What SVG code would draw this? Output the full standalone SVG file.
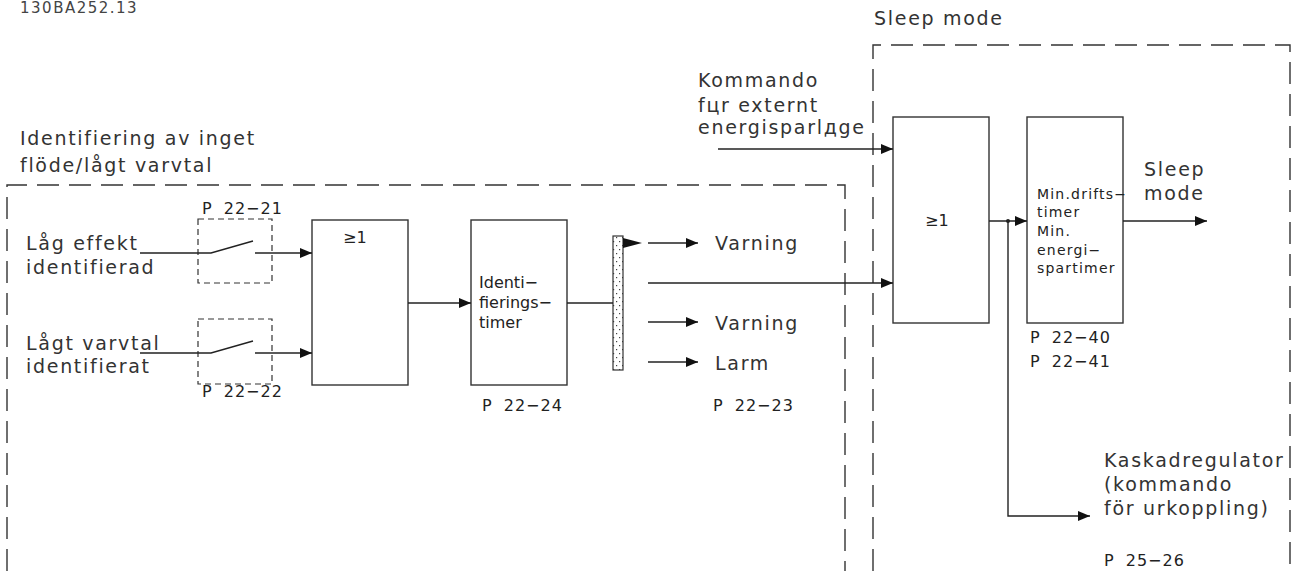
<svg xmlns="http://www.w3.org/2000/svg" width="1292" height="571" viewBox="0 0 1292 571">
<style>
.lbl{font-family:"DejaVu Sans",Verdana,sans-serif;font-size:19px;letter-spacing:1.7px;fill:#333}
.cad{font-family:"DejaVu Sans",sans-serif;font-size:16px;letter-spacing:1px;word-spacing:5px;fill:#222}
.tm{font-family:"DejaVu Sans",sans-serif;font-size:16px;fill:#222}
.sm{font-family:"DejaVu Sans",sans-serif;font-size:14px;letter-spacing:1.2px;fill:#222}
.ge{font-family:"DejaVu Sans",sans-serif;font-size:16px;fill:#222}
.box{fill:#fff;stroke:#333;stroke-width:1.4}
.dash{fill:none;stroke:#333;stroke-width:1.4;stroke-dasharray:22 10}
.sdash{fill:none;stroke:#333;stroke-width:1.2;stroke-dasharray:6 4}
.ln{fill:none;stroke:#222;stroke-width:1.4}
</style>
<defs>
<marker id="ah" markerWidth="12" markerHeight="10" refX="12" refY="5" orient="auto" markerUnits="userSpaceOnUse">
<path d="M0,0 L12,5 L0,10 Z" fill="#111"/>
</marker>
<pattern id="dots" width="6" height="8" patternUnits="userSpaceOnUse">
<rect width="6" height="8" fill="#fff"/>
<rect x="1" y="1" width="1.2" height="1.2" fill="#444"/>
<rect x="4" y="5" width="1.2" height="1.2" fill="#444"/>
</pattern>
</defs>
<rect width="1292" height="571" fill="#fff"/>

<text x="20" y="13" style="font-family:'DejaVu Sans',sans-serif;font-size:15px;letter-spacing:1.5px;fill:#444">130BA252.13</text>

<g id="noflow-frame">
<path class="dash" d="M7,571 V185 H845 V571"/>
<text class="lbl" x="20" y="145">Identifiering av inget</text>
<text class="lbl" x="20" y="172">flöde/lågt varvtal</text>
</g>

<g id="sleep-frame">
<path class="dash" d="M873,571 V45 H1290 V571"/>
<text class="lbl" x="874" y="25">Sleep mode</text>
</g>

<g id="sw1">
<rect class="sdash" x="198" y="219" width="74" height="64"/>
<text class="cad" x="202" y="214">P 22−21</text>
<text class="lbl" x="26" y="250">Låg effekt</text>
<text class="lbl" x="26" y="274">identifierad</text>
</g>

<g id="sw2">
<rect class="sdash" x="198" y="319" width="74" height="65"/>
<text class="cad" x="202" y="397">P 22−22</text>
<text class="lbl" x="26" y="350">Lågt varvtal</text>
<text class="lbl" x="26" y="373">identifierat</text>
</g>

<g id="or1">
<rect class="box" x="312" y="220" width="96" height="165"/>
<text class="ge" x="343" y="243">≥1</text>
</g>

<g id="timer">
<rect class="box" x="471" y="220" width="96" height="165"/>
<text class="tm" x="479" y="288">Identi−</text>
<text class="tm" x="479" y="308">fierings−</text>
<text class="tm" x="479" y="328">timer</text>
<text class="cad" x="482" y="411">P 22−24</text>
</g>

<g id="bar">
<rect x="613" y="236" width="10" height="134" fill="url(#dots)" stroke="#333" stroke-width="1.2"/>
<path d="M623,238 L642,243 L623,248 Z" fill="#111"/>
</g>

<g id="outputs">
<text class="lbl" x="715" y="250">Varning</text>
<text class="lbl" x="715" y="330">Varning</text>
<text class="lbl" x="715" y="370">Larm</text>
<text class="cad" x="713" y="411">P 22−23</text>
</g>

<g id="ext-cmd">
<text class="lbl" x="698" y="87">Kommando</text>
<text class="lbl" x="698" y="112">fцr externt</text>
<text class="lbl" x="698" y="134">energisparlдge</text>
</g>

<g id="or2">
<rect class="box" x="893" y="117" width="96" height="206"/>
<text class="ge" x="925" y="226">≥1</text>
</g>

<g id="mintimer">
<rect class="box" x="1027" y="117" width="96" height="206"/>
<text class="sm" x="1037" y="199">Min.drifts−</text>
<text class="sm" x="1037" y="217">timer</text>
<text class="sm" x="1037" y="236">Min.</text>
<text class="sm" x="1037" y="255">energi−</text>
<text class="sm" x="1037" y="273">spartimer</text>
<text class="cad" x="1030" y="343">P 22−40</text>
<text class="cad" x="1030" y="367">P 22−41</text>
</g>

<g id="sleep-out">
<text class="lbl" x="1144" y="176">Sleep</text>
<text class="lbl" x="1144" y="200">mode</text>
</g>

<g id="cascade">
<text class="lbl" x="1104" y="467">Kaskadregulator</text>
<text class="lbl" x="1104" y="491">(kommando</text>
<text class="lbl" x="1104" y="515">för urkoppling)</text>
<text class="cad" x="1104" y="566">P 25−26</text>
</g>

<g id="connectors">
<path class="ln" d="M140,253 H211 L253,241"/>
<path class="ln" d="M255,253 H312" marker-end="url(#ah)"/>
<path class="ln" d="M140,353 H211 L253,341"/>
<path class="ln" d="M255,353 H312" marker-end="url(#ah)"/>
<path class="ln" d="M408,303 H471" marker-end="url(#ah)"/>
<path class="ln" d="M567,303 H613"/>
<path class="ln" d="M648,243 H698" marker-end="url(#ah)"/>
<path class="ln" d="M648,283 H893" marker-end="url(#ah)"/>
<path class="ln" d="M648,322 H698" marker-end="url(#ah)"/>
<path class="ln" d="M648,362 H698" marker-end="url(#ah)"/>
<path class="ln" d="M718,149 H893" marker-end="url(#ah)"/>
<path class="ln" d="M989,221 H1027" marker-end="url(#ah)"/>
<path class="ln" d="M1123,221 H1207" marker-end="url(#ah)"/>
<path class="ln" d="M1008,221 V516 H1090" marker-end="url(#ah)"/>
<circle cx="1008" cy="221" r="2" fill="#222"/>
</g>
</svg>
